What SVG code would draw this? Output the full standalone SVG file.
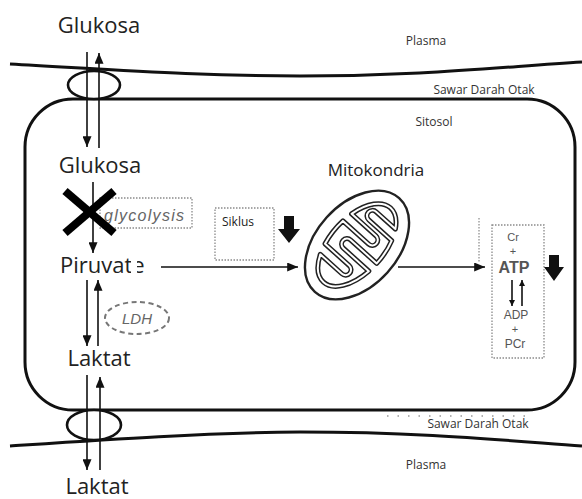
<svg xmlns="http://www.w3.org/2000/svg" width="582" height="499" viewBox="0 0 582 499">
  <style>
    .lbl { font-family: "Open Sans", "Noto Sans", sans-serif; fill: #222; }
    .big { font-size: 22px; }
    .small { font-size: 12px; fill: #333; }
    .mem { fill: none; stroke: #111; stroke-width: 3; }
    .arr { stroke: #111; stroke-width: 1.6; fill: none; }
    .dotbox { fill: none; stroke: #8a8a8a; stroke-width: 1.3; stroke-dasharray: 1.5 1.5; }
    .chem { font-family: "Liberation Sans", Arial, sans-serif; fill: #555; text-anchor: middle; }
    .ital { font-family: "Liberation Sans", Arial, sans-serif; font-style: italic; fill: #666; }
  </style>
  <defs>
    <marker id="ah" viewBox="0 0 12 10" refX="12" refY="5" markerWidth="12" markerHeight="9" markerUnits="userSpaceOnUse" orient="auto">
      <path d="M0,0 L12,5 L0,10 z" fill="#111"/>
    </marker>
    <marker id="ahs" viewBox="0 0 10 10" refX="10" refY="5" markerWidth="8" markerHeight="6" markerUnits="userSpaceOnUse" orient="auto">
      <path d="M0,0 L10,5 L0,10 z" fill="#111"/>
    </marker>
    <!-- inner membrane outline (cristae), in the mitochondrion's own frame -->
    <path id="krista" d="M -50 0 A 50 27 0 0 1 -31.5 -21 L -31.5 8 A 5.5 5.5 0 0 0 -20.5 8 L -20.5 -24.6 A 50 27 0 0 1 8.5 -26.6 L 8.5 8 A 5.5 5.5 0 0 0 19.5 8 L 19.5 -24.9 A 50 27 0 0 1 50 0 A 50 27 0 0 1 37.5 17.9 L 37.5 -8 A 5.5 5.5 0 0 0 26.5 -8 L 26.5 22.9 A 50 27 0 0 1 -0.5 27 L -0.5 -8 A 5.5 5.5 0 0 0 -11.5 -8 L -11.5 26.3 A 50 27 0 0 1 -50 0 Z"/>
  </defs>
  <rect width="582" height="499" fill="#fff"/>

  <!-- membranes -->
  <g id="membranes">
    <path class="mem" d="M 10 64 C 120 70, 200 76, 300 76 C 420 76, 500 67, 582 62"/>
    <path class="mem" d="M 10 446 C 100 440, 200 433, 300 432 C 420 432, 500 440, 582 446"/>
    <rect class="mem" x="25" y="99" width="550" height="311" rx="48" ry="48"/>
    <line x1="387" y1="416" x2="532" y2="416" stroke="#999" stroke-width="1.5" stroke-dasharray="1.5 9"/>
  </g>

  <!-- transporter channels -->
  <g id="channel-top">
    <ellipse cx="94" cy="85" rx="26" ry="14" fill="#fff" stroke="#111" stroke-width="2.6"/>
  </g>
  <g id="channel-bottom">
    <ellipse cx="94" cy="425" rx="27" ry="15" fill="#fff" stroke="#111" stroke-width="2.6"/>
  </g>

  <!-- region labels -->
  <g id="labels">
    <text class="lbl small" x="426" y="45" text-anchor="middle">Plasma</text>
    <text class="lbl small" x="484" y="94" text-anchor="middle" font-size="13">Sawar Darah Otak</text>
    <text class="lbl small" x="434" y="126" text-anchor="middle">Sitosol</text>
    <text class="lbl small" x="478" y="428" text-anchor="middle" font-size="13">Sawar Darah Otak</text>
    <text class="lbl small" x="426" y="469" text-anchor="middle">Plasma</text>
  </g>

  <!-- metabolites -->
  <g id="glukosa-plasma"><text class="lbl big" x="99" y="33" text-anchor="middle">Glukosa</text></g>
  <g id="glukosa-sitosol"><text class="lbl big" x="100" y="173" text-anchor="middle">Glukosa</text></g>
  <g id="piruvat">
    <text class="lbl big" x="60" y="273">Piruvate</text>
    <rect x="131" y="256" width="6" height="20" fill="#fff"/>
  </g>
  <g id="laktat-sitosol"><text class="lbl big" x="99" y="366" text-anchor="middle">Laktat</text></g>
  <g id="laktat-plasma"><text class="lbl big" x="97" y="494" text-anchor="middle">Laktat</text></g>

  <!-- glycolysis -->
  <g id="glycolysis">
    <rect class="dotbox" x="100" y="198" width="92" height="30"/>
    <text class="ital" x="104" y="221" font-size="16" textLength="80">glycolysis</text>
  </g>

  <!-- LDH -->
  <g id="ldh">
    <ellipse cx="137" cy="318" rx="32" ry="16" fill="none" stroke="#777" stroke-width="2" stroke-dasharray="5 3.5"/>
    <text class="ital" x="137" y="324" font-size="15" text-anchor="middle">LDH</text>
  </g>

  <!-- Siklus -->
  <g id="siklus">
    <rect class="dotbox" x="215" y="208" width="59" height="52"/>
    <text class="lbl" x="222" y="226" font-size="12" fill="#333">Siklus</text>
    <polygon points="284,216 294,216 294,229 300,229 289,243 278,229 284,229" fill="#111"/>
  </g>

  <!-- Mitokondria -->
  <g id="mitokondria">
    <text class="lbl" x="376" y="176" font-size="17" text-anchor="middle">Mitokondria</text>
    <g transform="translate(357,245) rotate(-48)">
      <ellipse cx="0" cy="0" rx="63" ry="41" fill="#fff" stroke="#222" stroke-width="2.4"/>
      <use href="#krista" fill="none" stroke="#222" stroke-width="5" stroke-linejoin="round"/>
      <use href="#krista" fill="none" stroke="#fff" stroke-width="2" stroke-linejoin="round"/>
    </g>
  </g>

  <!-- creatine / ATP buffer -->
  <g id="atp-pool">
    <rect class="dotbox" x="492" y="225" width="52" height="133"/>
    <text class="chem" x="513" y="241" font-size="11">Cr</text>
    <text class="chem" x="513" y="255" font-size="11">+</text>
    <text class="chem" x="514" y="273" font-size="16" font-weight="bold" fill="#111">ATP</text>
    <line class="arr" x1="512" y1="280" x2="512" y2="306" stroke-width="1.4" marker-end="url(#ahs)"/>
    <line class="arr" x1="522" y1="306" x2="522" y2="280" stroke-width="1.4" marker-end="url(#ahs)"/>
    <text class="chem" x="516" y="319" font-size="12">ADP</text>
    <text class="chem" x="515" y="333" font-size="11">+</text>
    <text class="chem" x="515" y="348" font-size="12">PCr</text>
    <polygon points="549,255 559,255 559,267 564,267 554,281 544,267 549,267" fill="#111"/>
  </g>

  <!-- connectors -->
  <g id="connectors">
    <line class="arr" x1="87" y1="52" x2="87" y2="147" marker-end="url(#ah)"/>
    <line class="arr" x1="99" y1="148" x2="99" y2="53" marker-end="url(#ah)"/>
    <line class="arr" x1="93" y1="182" x2="93" y2="253" marker-end="url(#ah)"/>
    <line class="arr" x1="87" y1="280" x2="87" y2="346" marker-end="url(#ah)"/>
    <line class="arr" x1="98" y1="346" x2="98" y2="280" marker-end="url(#ah)"/>
    <line class="arr" x1="87" y1="375" x2="87" y2="470" marker-end="url(#ah)"/>
    <line class="arr" x1="100" y1="470" x2="100" y2="377" marker-end="url(#ah)"/>
    <line class="arr" x1="161" y1="267" x2="298" y2="267" marker-end="url(#ah)"/>
    <line class="arr" x1="398" y1="267" x2="485" y2="267" marker-end="url(#ah)"/>
    <line x1="479" y1="218" x2="479" y2="262" stroke="#888" stroke-width="1.2" stroke-dasharray="1.5 1.5"/>
  </g>

  <!-- blocked glycolysis -->
  <g id="blok">
    <line x1="65" y1="191" x2="114" y2="233" stroke="#000" stroke-width="8"/>
    <line x1="114" y1="191" x2="65" y2="233" stroke="#000" stroke-width="8"/>
  </g>
</svg>
